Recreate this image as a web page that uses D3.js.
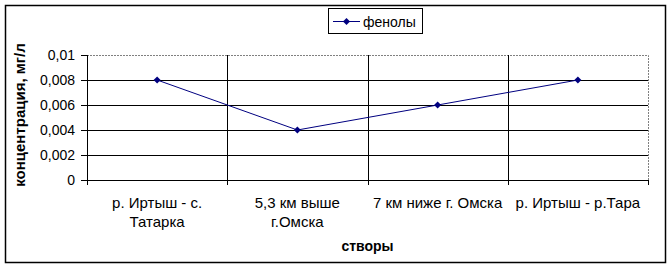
<!DOCTYPE html>
<html>
<head>
<meta charset="utf-8">
<script src="https://cdn.jsdelivr.net/npm/d3@7"></script>
<style>
  body { margin: 0; background: #fff; }
  svg { display: block; font-family: Arial, "Liberation Sans", sans-serif; }
</style>
</head>
<body>
<svg width="672" height="270"></svg>
<script>
// chart data
var categories = ["р. Иртыш - с. Татарка", "5,3 км выше г.Омска", "7 км ниже г. Омска", "р. Иртыш - р.Тара"];
var categoryLines = [["р. Иртыш - с.", "Татарка"], ["5,3 км выше", "г.Омска"], ["7 км ниже г. Омска"], ["р. Иртыш - р.Тара"]];
var phenols = [0.008, 0.004, 0.006, 0.008];
var yTicks = [0, 0.002, 0.004, 0.006, 0.008, 0.01];
var yTickLabels = ["0", "0,002", "0,004", "0,006", "0,008", "0,01"];
var seriesName = "фенолы";
var yTitle = "концентрация, мг/л";
var xTitle = "створы";

var svg = d3.select("svg"),
    margin = {top: 55, left: 87, right: 24, bottom: 90},
    width = 672 - margin.left - margin.right,
    height = 270 - margin.top - margin.bottom,
    navy = "#000080";

// outer frame
svg.append("rect")
    .attr("x", 5.5).attr("y", 5.5)
    .attr("width", 660).attr("height", 257)
    .attr("fill", "#fff").attr("stroke", "#000").attr("stroke-width", 1.5);

var g = svg.append("g").attr("transform", "translate(" + margin.left + "," + margin.top + ")");

var x = d3.scaleBand().domain(categories).range([0, width]).padding(0);
var y = d3.scaleLinear().domain([0, 0.01]).range([height, 0]);

// plot area border (top/right, dotted gray)
g.append("path")
    .attr("d", "M0,0.5H" + (width + 0.5) + "V" + height)
    .attr("fill", "none").attr("stroke", "#808080").attr("stroke-dasharray", "2,1");

// horizontal gridlines
g.append("g").selectAll("line")
    .data(yTicks.filter(function (d) { return d > 0 && d < 0.01; }))
    .enter().append("line")
    .attr("x1", 0).attr("x2", width)
    .attr("y1", function (d) { return Math.round(y(d)) + 0.5; })
    .attr("y2", function (d) { return Math.round(y(d)) + 0.5; })
    .attr("stroke", "#000");

// vertical gridlines at category boundaries
g.append("g").selectAll("line")
    .data(categories.slice(1))
    .enter().append("line")
    .attr("x1", function (d) { return Math.round(x(d)) + 0.5; })
    .attr("x2", function (d) { return Math.round(x(d)) + 0.5; })
    .attr("y1", 0).attr("y2", height)
    .attr("stroke", "#000");

// y axis
var axisY = g.append("g")
    .call(d3.axisLeft(y).tickValues(yTicks).tickSize(6).tickPadding(6)
        .tickFormat(function (d, i) { return yTickLabels[i]; }));
axisY.select(".domain").attr("d", "M0.5,0V" + (height + 5)).attr("stroke", "#000");
axisY.selectAll(".tick line").attr("stroke", "#000");
axisY.selectAll(".tick text").style("font-size", "14px").attr("fill", "#000");

// x axis (boundary ticks)
var xAxis = g.append("g").attr("transform", "translate(0," + height + ")");
xAxis.append("line").attr("x1", 0).attr("x2", width + 0.5)
    .attr("y1", 0.5).attr("y2", 0.5).attr("stroke", "#000");
xAxis.selectAll(".bt")
    .data(categories.concat(["end"]))
    .enter().append("line")
    .attr("x1", function (d, i) { return Math.round(i < categories.length ? x(d) : width) + 0.5; })
    .attr("x2", function (d, i) { return Math.round(i < categories.length ? x(d) : width) + 0.5; })
    .attr("y1", 0).attr("y2", 5).attr("stroke", "#000");

var labels = xAxis.selectAll(".xl")
    .data(categories)
    .enter().append("text")
    .attr("text-anchor", "middle")
    .attr("x", function (d) { return x(d) + x.bandwidth() / 2; })
    .attr("y", 28)
    .style("font-size", "15px");
labels.each(function (d, i) {
    var t = d3.select(this);
    categoryLines[i].forEach(function (ln, k) {
        t.append("tspan").attr("x", x(d) + x.bandwidth() / 2).attr("dy", k === 0 ? 0 : 19).text(ln);
    });
});

// axis titles
svg.append("text")
    .attr("x", margin.left + width / 2).attr("y", 251)
    .attr("text-anchor", "middle")
    .style("font-size", "14px").style("font-weight", "bold")
    .text(xTitle);
svg.append("text")
    .attr("transform", "translate(25,115) rotate(-90)")
    .attr("text-anchor", "middle")
    .style("font-size", "15px").style("font-weight", "bold")
    .text(yTitle);

// series line
var line = d3.line()
    .x(function (d, i) { return x(categories[i]) + x.bandwidth() / 2; })
    .y(function (d) { return y(d); });
g.append("path").datum(phenols)
    .attr("d", line).attr("fill", "none").attr("stroke", navy).attr("stroke-width", 1);

var diamond = d3.symbol().type(d3.symbolDiamond2).size(32);
g.selectAll(".pt")
    .data(phenols)
    .enter().append("path")
    .attr("d", diamond)
    .attr("transform", function (d, i) {
        return "translate(" + (x(categories[i]) + x.bandwidth() / 2) + "," + y(d) + ")";
    })
    .attr("fill", navy);

// legend
var legend = svg.append("g").attr("transform", "translate(328,8)");
legend.append("rect").attr("x", 0.5).attr("y", 0.5).attr("width", 94).attr("height", 25)
    .attr("fill", "#fff").attr("stroke", "#000");
legend.append("line").attr("x1", 5).attr("x2", 32).attr("y1", 13.5).attr("y2", 13.5)
    .attr("stroke", navy);
legend.append("path").attr("d", diamond).attr("transform", "translate(18.5,13.5)").attr("fill", navy);
legend.append("text").attr("x", 35).attr("y", 18.5)
    .style("font-size", "14px").text(seriesName);
</script>
</body>
</html>
